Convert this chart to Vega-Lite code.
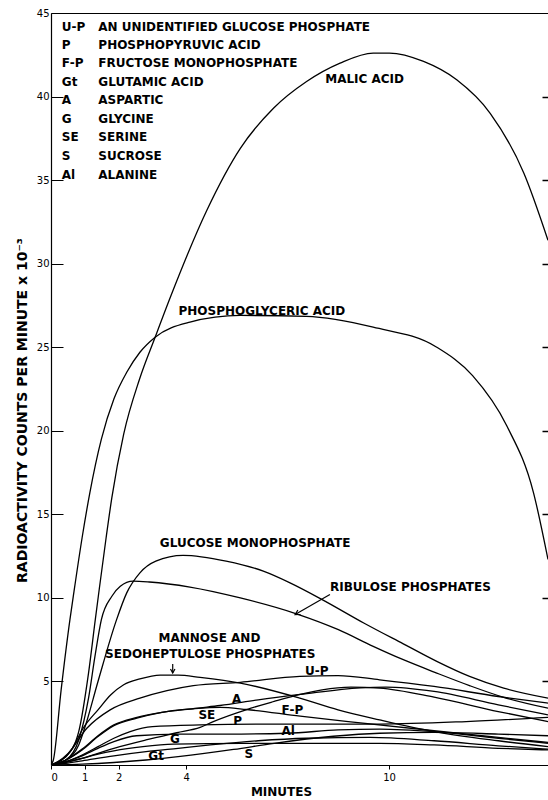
{
  "$schema": "https://vega.github.io/schema/vega-lite/v6.json",
  "width": 497,
  "height": 752,
  "autosize": {"type": "none"},
  "padding": {"left": 51, "top": 13, "right": 0, "bottom": 35},
  "background": "white",
  "config": {
    "view": {"stroke": null},
    "font": "DejaVu Sans",
    "axis": {"domainColor": "black", "tickColor": "black", "labelColor": "black", "titleColor": "black", "grid": false, "labelFont": "DejaVu Sans", "titleFont": "DejaVu Sans"}
  },
  "datasets": {
    "curves": [
      {"s":"Malic acid","m":0,"c":0},{"s":"Malic acid","m":0.44,"c":0.5},{"s":"Malic acid","m":0.82,"c":2.0},{"s":"Malic acid","m":1.11,"c":5.5},{"s":"Malic acid","m":1.31,"c":8.7},{"s":"Malic acid","m":1.4,"c":10.1},{"s":"Malic acid","m":1.63,"c":13.6},{"s":"Malic acid","m":1.8,"c":16.0},{"s":"Malic acid","m":2.15,"c":19.8},{"s":"Malic acid","m":2.62,"c":23.1},{"s":"Malic acid","m":3.08,"c":25.6},{"s":"Malic acid","m":3.57,"c":28.2},{"s":"Malic acid","m":4.61,"c":33.2},{"s":"Malic acid","m":5.6,"c":36.9},{"s":"Malic acid","m":6.58,"c":39.3},{"s":"Malic acid","m":7.56,"c":40.9},{"s":"Malic acid","m":8.55,"c":42.0},{"s":"Malic acid","m":9.53,"c":42.6},{"s":"Malic acid","m":10.01,"c":42.6},{"s":"Malic acid","m":11.02,"c":42.1},{"s":"Malic acid","m":12.0,"c":41.0},{"s":"Malic acid","m":12.99,"c":39.0},{"s":"Malic acid","m":13.99,"c":35.4},{"s":"Malic acid","m":14.7,"c":31.4},
      {"s":"Phosphoglyceric acid","m":0,"c":0},{"s":"Phosphoglyceric acid","m":0.07,"c":0.3},{"s":"Phosphoglyceric acid","m":0.3,"c":4.5},{"s":"Phosphoglyceric acid","m":0.56,"c":8.7},{"s":"Phosphoglyceric acid","m":0.66,"c":10.1},{"s":"Phosphoglyceric acid","m":0.92,"c":13.6},{"s":"Phosphoglyceric acid","m":1.15,"c":16.3},{"s":"Phosphoglyceric acid","m":1.49,"c":19.5},{"s":"Phosphoglyceric acid","m":1.86,"c":21.9},{"s":"Phosphoglyceric acid","m":2.24,"c":23.5},{"s":"Phosphoglyceric acid","m":2.63,"c":24.7},{"s":"Phosphoglyceric acid","m":3.08,"c":25.6},{"s":"Phosphoglyceric acid","m":4.11,"c":26.5},{"s":"Phosphoglyceric acid","m":5.6,"c":26.9},{"s":"Phosphoglyceric acid","m":7.55,"c":26.85},{"s":"Phosphoglyceric acid","m":9.53,"c":26.2},{"s":"Phosphoglyceric acid","m":11.41,"c":25.0},{"s":"Phosphoglyceric acid","m":12.47,"c":23.3},{"s":"Phosphoglyceric acid","m":13.48,"c":20.3},{"s":"Phosphoglyceric acid","m":14.27,"c":16.3},{"s":"Phosphoglyceric acid","m":14.7,"c":12.3},
      {"s":"Glucose monophosphate","m":0,"c":0},{"s":"Glucose monophosphate","m":0.44,"c":0.3},{"s":"Glucose monophosphate","m":0.82,"c":1.2},{"s":"Glucose monophosphate","m":1.01,"c":2.3},{"s":"Glucose monophosphate","m":1.39,"c":5.0},{"s":"Glucose monophosphate","m":1.94,"c":8.7},{"s":"Glucose monophosphate","m":2.24,"c":10.3},{"s":"Glucose monophosphate","m":2.63,"c":11.5},{"s":"Glucose monophosphate","m":3.1,"c":12.2},{"s":"Glucose monophosphate","m":3.91,"c":12.55},{"s":"Glucose monophosphate","m":5.18,"c":12.2},{"s":"Glucose monophosphate","m":6.28,"c":11.6},{"s":"Glucose monophosphate","m":7.07,"c":10.9},{"s":"Glucose monophosphate","m":8.02,"c":9.9},{"s":"Glucose monophosphate","m":9.25,"c":8.5},{"s":"Glucose monophosphate","m":10.42,"c":7.25},{"s":"Glucose monophosphate","m":11.41,"c":6.2},{"s":"Glucose monophosphate","m":12.38,"c":5.3},{"s":"Glucose monophosphate","m":13.39,"c":4.6},{"s":"Glucose monophosphate","m":14.7,"c":4.0},
      {"s":"Ribulose phosphates","m":0,"c":0},{"s":"Ribulose phosphates","m":0.44,"c":0.3},{"s":"Ribulose phosphates","m":0.82,"c":1.5},{"s":"Ribulose phosphates","m":1.11,"c":4.0},{"s":"Ribulose phosphates","m":1.3,"c":6.5},{"s":"Ribulose phosphates","m":1.49,"c":8.7},{"s":"Ribulose phosphates","m":1.8,"c":10.1},{"s":"Ribulose phosphates","m":2.05,"c":10.7},{"s":"Ribulose phosphates","m":2.43,"c":11.0},{"s":"Ribulose phosphates","m":2.91,"c":10.95},{"s":"Ribulose phosphates","m":4.11,"c":10.65},{"s":"Ribulose phosphates","m":5.6,"c":10.0},{"s":"Ribulose phosphates","m":7.26,"c":9.05},{"s":"Ribulose phosphates","m":8.5,"c":8.1},{"s":"Ribulose phosphates","m":9.53,"c":7.1},{"s":"Ribulose phosphates","m":10.42,"c":6.3},{"s":"Ribulose phosphates","m":11.41,"c":5.5},{"s":"Ribulose phosphates","m":12.38,"c":4.75},{"s":"Ribulose phosphates","m":13.39,"c":4.05},{"s":"Ribulose phosphates","m":14.7,"c":3.4},
      {"s":"Mannose and sedoheptulose phosphates","m":0,"c":0},{"s":"Mannose and sedoheptulose phosphates","m":0.35,"c":0.4},{"s":"Mannose and sedoheptulose phosphates","m":0.63,"c":1.0},{"s":"Mannose and sedoheptulose phosphates","m":0.95,"c":2.2},{"s":"Mannose and sedoheptulose phosphates","m":1.39,"c":3.3},{"s":"Mannose and sedoheptulose phosphates","m":1.77,"c":4.2},{"s":"Mannose and sedoheptulose phosphates","m":2.15,"c":4.8},{"s":"Mannose and sedoheptulose phosphates","m":2.63,"c":5.15},{"s":"Mannose and sedoheptulose phosphates","m":3.23,"c":5.38},{"s":"Mannose and sedoheptulose phosphates","m":3.76,"c":5.38},{"s":"Mannose and sedoheptulose phosphates","m":4.41,"c":5.24},{"s":"Mannose and sedoheptulose phosphates","m":5.6,"c":4.9},{"s":"Mannose and sedoheptulose phosphates","m":7.36,"c":4.0},{"s":"Mannose and sedoheptulose phosphates","m":8.49,"c":3.3},{"s":"Mannose and sedoheptulose phosphates","m":9.72,"c":2.7},{"s":"Mannose and sedoheptulose phosphates","m":11.33,"c":2.0},{"s":"Mannose and sedoheptulose phosphates","m":13.23,"c":1.45},{"s":"Mannose and sedoheptulose phosphates","m":14.7,"c":1.1},
      {"s":"U-P","m":0,"c":0},{"s":"U-P","m":0.44,"c":0.5},{"s":"U-P","m":1.06,"c":2.2},{"s":"U-P","m":1.75,"c":3.3},{"s":"U-P","m":2.63,"c":4.0},{"s":"U-P","m":3.43,"c":4.45},{"s":"U-P","m":4.21,"c":4.75},{"s":"U-P","m":5.6,"c":4.95},{"s":"U-P","m":7.36,"c":5.3},{"s":"U-P","m":8.49,"c":5.35},{"s":"U-P","m":9.72,"c":5.1},{"s":"U-P","m":11.33,"c":4.7},{"s":"U-P","m":13.23,"c":4.1},{"s":"U-P","m":14.7,"c":3.7},
      {"s":"A","m":0,"c":0},{"s":"A","m":0.44,"c":0.3},{"s":"A","m":0.92,"c":0.9},{"s":"A","m":1.39,"c":1.7},{"s":"A","m":1.86,"c":2.35},{"s":"A","m":2.54,"c":2.8},{"s":"A","m":3.28,"c":3.15},{"s":"A","m":4.41,"c":3.42},{"s":"A","m":5.0,"c":3.56},{"s":"A","m":6.13,"c":3.9},{"s":"A","m":7.37,"c":4.22},{"s":"A","m":9.15,"c":4.62},{"s":"A","m":9.91,"c":4.66},{"s":"A","m":11.33,"c":4.4},{"s":"A","m":13.23,"c":3.6},{"s":"A","m":14.7,"c":3.0},
      {"s":"SE","m":0,"c":0},{"s":"SE","m":0.44,"c":0.3},{"s":"SE","m":0.92,"c":0.95},{"s":"SE","m":1.39,"c":1.75},{"s":"SE","m":1.86,"c":2.4},{"s":"SE","m":2.54,"c":2.85},{"s":"SE","m":3.28,"c":3.15},{"s":"SE","m":4.21,"c":3.36},{"s":"SE","m":5.0,"c":3.45},{"s":"SE","m":5.79,"c":3.32},{"s":"SE","m":7.37,"c":2.92},{"s":"SE","m":9.15,"c":2.52},{"s":"SE","m":11.33,"c":2.05},{"s":"SE","m":13.23,"c":1.65},{"s":"SE","m":14.7,"c":1.35},
      {"s":"F-P","m":0,"c":0},{"s":"F-P","m":0.92,"c":0.4},{"s":"F-P","m":1.86,"c":1.0},{"s":"F-P","m":2.81,"c":1.5},{"s":"F-P","m":3.72,"c":1.93},{"s":"F-P","m":4.41,"c":2.25},{"s":"F-P","m":4.8,"c":2.6},{"s":"F-P","m":5.79,"c":3.32},{"s":"F-P","m":6.6,"c":3.8},{"s":"F-P","m":7.37,"c":4.22},{"s":"F-P","m":8.02,"c":4.5},{"s":"F-P","m":8.87,"c":4.66},{"s":"F-P","m":9.72,"c":4.6},{"s":"F-P","m":11.33,"c":4.06},{"s":"F-P","m":13.23,"c":3.2},{"s":"F-P","m":14.7,"c":2.6},
      {"s":"P","m":0,"c":0},{"s":"P","m":0.44,"c":0.2},{"s":"P","m":0.92,"c":0.6},{"s":"P","m":1.39,"c":1.1},{"s":"P","m":1.86,"c":1.6},{"s":"P","m":2.34,"c":2.0},{"s":"P","m":3.0,"c":2.3},{"s":"P","m":4.41,"c":2.4},{"s":"P","m":6.6,"c":2.45},{"s":"P","m":9.72,"c":2.45},{"s":"P","m":12.28,"c":2.6},{"s":"P","m":14.7,"c":2.85},
      {"s":"Al","m":0,"c":0},{"s":"Al","m":0.44,"c":0.2},{"s":"Al","m":0.92,"c":0.55},{"s":"Al","m":1.39,"c":1.0},{"s":"Al","m":1.86,"c":1.4},{"s":"Al","m":2.53,"c":1.75},{"s":"Al","m":3.76,"c":1.85},{"s":"Al","m":5.18,"c":1.85},{"s":"Al","m":6.98,"c":1.9},{"s":"Al","m":8.49,"c":2.1},{"s":"Al","m":9.72,"c":2.15},{"s":"Al","m":11.33,"c":2.0},{"s":"Al","m":13.23,"c":1.6},{"s":"Al","m":14.7,"c":1.3},
      {"s":"G","m":0,"c":0},{"s":"G","m":0.44,"c":0.15},{"s":"G","m":0.92,"c":0.4},{"s":"G","m":1.39,"c":0.65},{"s":"G","m":1.86,"c":0.85},{"s":"G","m":2.72,"c":1.1},{"s":"G","m":3.62,"c":1.25},{"s":"G","m":5.65,"c":1.3},{"s":"G","m":7.55,"c":1.3},{"s":"G","m":9.72,"c":1.3},{"s":"G","m":11.33,"c":1.2},{"s":"G","m":13.23,"c":1.0},{"s":"G","m":14.7,"c":0.9},
      {"s":"Gt","m":0,"c":0},{"s":"Gt","m":0.44,"c":0.1},{"s":"Gt","m":0.92,"c":0.25},{"s":"Gt","m":1.86,"c":0.55},{"s":"Gt","m":2.81,"c":0.8},{"s":"Gt","m":3.76,"c":1.0},{"s":"Gt","m":4.71,"c":1.2},{"s":"Gt","m":6.13,"c":1.45},{"s":"Gt","m":7.55,"c":1.6},{"s":"Gt","m":9.44,"c":1.65},{"s":"Gt","m":11.33,"c":1.45},{"s":"Gt","m":13.23,"c":1.15},{"s":"Gt","m":14.7,"c":0.95},
      {"s":"S","m":0,"c":0},{"s":"S","m":0.92,"c":0.05},{"s":"S","m":1.86,"c":0.15},{"s":"S","m":2.81,"c":0.3},{"s":"S","m":3.76,"c":0.5},{"s":"S","m":5.4,"c":0.93},{"s":"S","m":6.6,"c":1.3},{"s":"S","m":8.35,"c":1.72},{"s":"S","m":9.72,"c":1.9},{"s":"S","m":11.33,"c":1.95},{"s":"S","m":13.23,"c":1.85},{"s":"S","m":14.7,"c":1.75}
    ],
    "labels": [
      {"label":"MALIC ACID","m":8.11,"c":41.06},
      {"label":"PHOSPHOGLYCERIC ACID","m":3.77,"c":27.14},
      {"label":"GLUCOSE MONOPHOSPHATE","m":3.22,"c":13.29},
      {"label":"RIBULOSE PHOSPHATES","m":8.25,"c":10.66},
      {"label":"MANNOSE AND","m":3.18,"c":7.62},
      {"label":"SEDOHEPTULOSE PHOSPHATES","m":1.6,"c":6.65},
      {"label":"U-P","m":7.51,"c":5.61},
      {"label":"A","m":5.35,"c":3.92},
      {"label":"SE","m":4.36,"c":3.02},
      {"label":"P","m":5.39,"c":2.62},
      {"label":"F-P","m":6.82,"c":3.32},
      {"label":"Al","m":6.82,"c":2.02},
      {"label":"G","m":3.52,"c":1.53},
      {"label":"Gt","m":2.88,"c":0.53},
      {"label":"S","m":5.72,"c":0.63}
    ],
    "legend": [
      {"abbr":"U-P","name":"AN UNIDENTIFIED GLUCOSE PHOSPHATE","c":44.19},
      {"abbr":"P","name":"PHOSPHOPYRUVIC ACID","c":43.09},
      {"abbr":"F-P","name":"FRUCTOSE MONOPHOSPHATE","c":42.0},
      {"abbr":"Gt","name":"GLUTAMIC ACID","c":40.9},
      {"abbr":"A","name":"ASPARTIC","c":39.8},
      {"abbr":"G","name":"GLYCINE","c":38.66},
      {"abbr":"SE","name":"SERINE","c":37.57},
      {"abbr":"S","name":"SUCROSE","c":36.45},
      {"abbr":"Al","name":"ALANINE","c":35.32}
    ],
    "arrows": [
      {"arrow":"rib","m":8.25,"c":10.2,"m2":7.22,"c2":9.0},
      {"arrow":"man","m":3.6,"c":6.05,"m2":3.6,"c2":5.5}
    ]
  },
  "layer": [
    {
      "data": {"name": "curves"},
      "mark": {"type": "line", "interpolate": "monotone", "color": "black", "strokeWidth": 1.3, "clip": true},
      "encoding": {
        "x": {"field": "m", "type": "quantitative", "scale": {"domain": [0, 14.7], "nice": false, "zero": false},
          "axis": {"orient": "bottom", "values": [0, 1, 2, 4, 10], "tickSize": 4, "labelFontSize": 10, "labelPadding": 3, "labelFlush": true, "domainWidth": 1.2,
            "title": "MINUTES", "titleFontSize": 12, "titleFontWeight": "bold", "titleX": 230, "titleY": 21, "titleBaseline": "top", "titleAlign": "center"}},
        "y": {"field": "c", "type": "quantitative", "scale": {"domain": [0, 45], "nice": false},
          "axis": {"orient": "left", "values": [5, 10, 15, 20, 25, 30, 35, 40, 45], "tickSize": -12, "labelPadding": 14, "labelFontSize": 10, "labelFlush": false, "domainWidth": 1.2,
            "title": "RADIOACTIVITY COUNTS PER MINUTE x 10⁻³", "titleFontSize": 14, "titleFontWeight": "bold", "titleX": -29, "titleY": 397, "titleAngle": -90, "titleBaseline": "middle", "titleAlign": "center"}},
        "detail": {"field": "s"}
      }
    },
    {
      "data": {"name": "labels"},
      "mark": {"type": "text", "align": "left", "baseline": "middle", "fontSize": 12, "fontWeight": "bold", "font": "DejaVu Sans", "color": "black"},
      "encoding": {
        "x": {"field": "m", "type": "quantitative", "scale": {"domain": [0, 14.7], "nice": false, "zero": false},
          "axis": {"orient": "top", "ticks": false, "labels": false, "title": null, "domain": true, "domainWidth": 1.2}},
        "y": {"field": "c", "type": "quantitative", "scale": {"domain": [0, 45], "nice": false},
          "axis": {"orient": "right", "values": [5, 10, 15, 20, 25, 30, 35, 40], "tickSize": -6, "tickWidth": 1.5, "labels": false, "domain": false, "title": null}},
        "text": {"field": "label"}
      }
    },
    {
      "data": {"name": "legend"},
      "mark": {"type": "text", "align": "left", "baseline": "middle", "fontSize": 12, "fontWeight": "bold", "font": "DejaVu Sans", "color": "black"},
      "encoding": {
        "x": {"datum": 0.32, "type": "quantitative", "scale": {"domain": [0, 14.7], "nice": false, "zero": false}, "axis": null},
        "y": {"field": "c", "type": "quantitative", "scale": {"domain": [0, 45], "nice": false}, "axis": null},
        "text": {"field": "abbr"}
      }
    },
    {
      "data": {"name": "legend"},
      "mark": {"type": "text", "align": "left", "baseline": "middle", "fontSize": 12, "fontWeight": "bold", "font": "DejaVu Sans", "color": "black"},
      "encoding": {
        "x": {"datum": 1.4, "type": "quantitative", "scale": {"domain": [0, 14.7], "nice": false, "zero": false}, "axis": null},
        "y": {"field": "c", "type": "quantitative", "scale": {"domain": [0, 45], "nice": false}, "axis": null},
        "text": {"field": "name"}
      }
    },
    {
      "data": {"name": "arrows"},
      "mark": {"type": "rule", "color": "black", "strokeWidth": 1.2},
      "encoding": {
        "x": {"field": "m", "type": "quantitative", "scale": {"domain": [0, 14.7], "nice": false, "zero": false}, "axis": null},
        "y": {"field": "c", "type": "quantitative", "scale": {"domain": [0, 45], "nice": false}, "axis": null},
        "x2": {"field": "m2"},
        "y2": {"field": "c2"}
      }
    },
    {
      "data": {"name": "arrows"},
      "transform": [{"filter": "datum.arrow === 'rib'"}],
      "mark": {"type": "point", "shape": "M -0.5 0.9 L 0 0 L 0.5 0.9", "filled": false, "stroke": "black", "strokeWidth": 1.2, "size": 110, "angle": 240, "opacity": 1},
      "encoding": {
        "x": {"field": "m2", "type": "quantitative", "scale": {"domain": [0, 14.7], "nice": false, "zero": false}, "axis": null},
        "y": {"field": "c2", "type": "quantitative", "scale": {"domain": [0, 45], "nice": false}, "axis": null}
      }
    },
    {
      "data": {"name": "arrows"},
      "transform": [{"filter": "datum.arrow === 'man'"}],
      "mark": {"type": "point", "shape": "M -0.5 0.9 L 0 0 L 0.5 0.9", "filled": false, "stroke": "black", "strokeWidth": 1.2, "size": 80, "angle": 180, "opacity": 1},
      "encoding": {
        "x": {"field": "m2", "type": "quantitative", "scale": {"domain": [0, 14.7], "nice": false, "zero": false}, "axis": null},
        "y": {"field": "c2", "type": "quantitative", "scale": {"domain": [0, 45], "nice": false}, "axis": null}
      }
    }
  ],
  "resolve": {"axis": {"x": "independent", "y": "independent"}}
}
